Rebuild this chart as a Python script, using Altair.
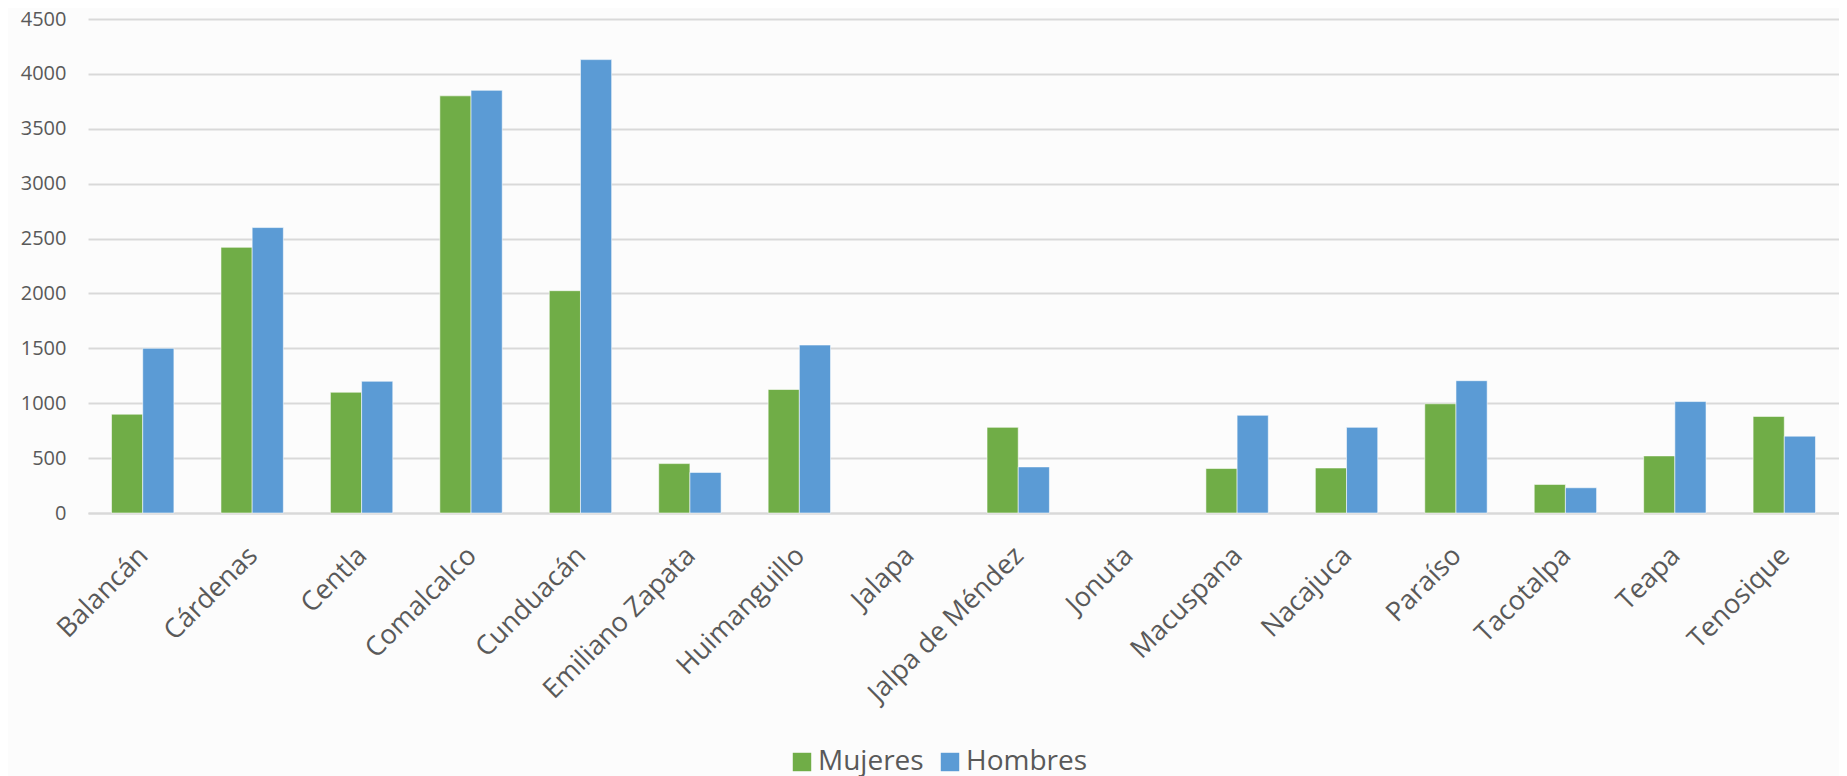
import altair as alt
import pandas as pd

municipios = ["Balancán", "Cárdenas", "Centla", "Comalcalco", "Cunduacán",
              "Emiliano Zapata", "Huimanguillo", "Jalapa", "Jalpa de Méndez",
              "Jonuta", "Macuspana", "Nacajuca", "Paraíso", "Tacotalpa",
              "Teapa", "Tenosique"]
mujeres = [900, 2420, 1100, 3800, 2025, 450, 1125, None, 780, None, 405, 410, 995, 260, 520, 880]
hombres = [1500, 2600, 1200, 3850, 4130, 370, 1530, None, 420, None, 890, 780, 1205, 230, 1015, 700]
series = ["Mujeres", "Hombres"]
colores = ["#70AD47", "#5B9BD5"]
y_ticks = [0, 500, 1000, 1500, 2000, 2500, 3000, 3500, 4000, 4500]

rows = []
for m, vm, vh in zip(municipios, mujeres, hombres):
    if vm is not None:
        rows.append({"municipio": m, "serie": "Mujeres", "valor": vm})
    if vh is not None:
        rows.append({"municipio": m, "serie": "Hombres", "valor": vh})
df = pd.DataFrame(rows)

FONT = "Open Sans"
GRAY = "#595959"

chart = alt.Chart(df).mark_bar(stroke="#ffffff", strokeWidth=0.8, strokeOpacity=0.7).encode(
    x=alt.X("municipio:N", scale=alt.Scale(domain=municipios, paddingInner=0.43, paddingOuter=0.215),
            axis=alt.Axis(title=None, labelAngle=-45, labelAlign="right", labelBaseline="top",
                          labelFontSize=27, labelFont=FONT, labelColor=GRAY, labelPadding=29,
                          labelOffset=-8, labelLimit=0,
                          ticks=False, domain=True, domainColor="#d9d9d9", domainWidth=2,
                          labelOverlap=False)),
    xOffset=alt.XOffset("serie:N", scale=alt.Scale(domain=series)),
    y=alt.Y("valor:Q", scale=alt.Scale(domain=[0, 4500], nice=False),
            axis=alt.Axis(title=None, values=y_ticks, format="d", labelFontSize=20, labelFont=FONT,
                          labelColor=GRAY, labelPadding=22, ticks=False, domain=False,
                          gridColor="#d9d9d9", gridWidth=1.8, minExtent=75)),
    color=alt.Color("serie:N", scale=alt.Scale(domain=series, range=colores),
                    legend=alt.Legend(title=None, orient="none", direction="horizontal",
                                      legendX=700, legendY=729, symbolType="square",
                                      symbolSize=340, symbolStrokeWidth=0,
                                      labelFontSize=28, labelFont=FONT, labelColor=GRAY,
                                      columnPadding=12, labelOffset=2)),
).properties(
    width=1751, height=494, background="#fcfcfc",
    padding={"left": 5, "top": 1, "right": 0, "bottom": 0},
).configure_view(stroke=None)

chart.save("out.html", embed_options={"renderer": "svg", "actions": False})
